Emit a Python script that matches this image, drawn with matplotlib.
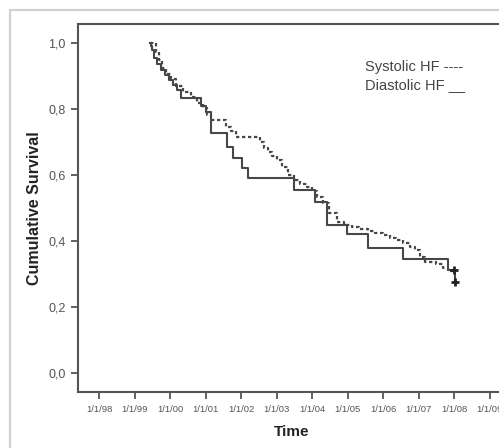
import numpy as np
import matplotlib.pyplot as plt
from matplotlib.patches import Rectangle

plt.rcParams['font.family'] = ['Liberation Sans', 'DejaVu Sans']

# Kaplan-Meier steps (decimal years, survival after the step)
dia_time = [1999.42, 1999.45, 1999.48, 1999.53, 1999.62, 1999.73, 1999.85, 1999.96,
            2000.07, 2000.19, 2000.30, 2000.87, 2001.01, 2001.15, 2001.61, 2001.78,
            2002.01, 2002.20, 2003.48, 2004.08, 2004.42, 2004.99, 2005.56, 2006.55,
            2007.83, 2008.00, 2008.02]
dia_surv = [1.000, 0.990, 0.979, 0.955, 0.936, 0.918, 0.903, 0.888,
            0.873, 0.858, 0.833, 0.809, 0.791, 0.727, 0.685, 0.652,
            0.621, 0.591, 0.555, 0.518, 0.448, 0.421, 0.379, 0.345,
            0.312, 0.312, 0.276]

sys_time = [1999.42, 1999.59, 1999.68, 1999.76, 1999.88, 2000.02, 2000.16, 2000.36,
            2000.59, 2000.76, 2000.93, 2001.04, 2001.15, 2001.58, 2001.72, 2001.86,
            2002.52, 2002.63, 2002.74, 2002.86, 2003.00, 2003.14, 2003.31, 2003.48,
            2003.65, 2003.85, 2003.99, 2004.14, 2004.31, 2004.48, 2004.70, 2004.90,
            2005.13, 2005.33, 2005.56, 2005.78, 2005.98, 2006.18, 2006.35, 2006.55,
            2006.75, 2006.89, 2007.03, 2007.18, 2007.49, 2007.69, 2007.83, 2007.97,
            2008.02]
sys_surv = [1.000, 0.973, 0.948, 0.924, 0.906, 0.891, 0.870, 0.852,
            0.836, 0.818, 0.803, 0.782, 0.767, 0.745, 0.733, 0.715,
            0.700, 0.682, 0.670, 0.658, 0.645, 0.624, 0.600, 0.585,
            0.573, 0.564, 0.552, 0.533, 0.515, 0.485, 0.458, 0.448,
            0.442, 0.436, 0.430, 0.424, 0.418, 0.409, 0.403, 0.394,
            0.382, 0.373, 0.352, 0.336, 0.330, 0.318, 0.309, 0.306,
            0.306]

# censored marks at the end of follow-up
cens_time = [2008.0, 2008.02]
cens_surv = [0.312, 0.276]

xtick_pos = [1998, 1999, 2000, 2001, 2002, 2003, 2004, 2005, 2006, 2007, 2008, 2009]
xtick_lab = ['1/1/98', '1/1/99', '1/1/00', '1/1/01', '1/1/02', '1/1/03',
             '1/1/04', '1/1/05', '1/1/06', '1/1/07', '1/1/08', '1/1/09']
ytick_pos = [0.0, 0.2, 0.4, 0.6, 0.8, 1.0]
ytick_lab = ['0,0', '0,2', '0,4', '0,6', '0,8', '1,0']

fig = plt.figure(figsize=(4.99, 4.48), dpi=100)
fig.patches.append(Rectangle((10 / 499, -0.1), 1.2, 1 - 10 / 448 + 0.1,
                             transform=fig.transFigure, fill=False,
                             edgecolor='#d0d0d0', linewidth=1.5))

ax = fig.add_axes([78 / 499, 1 - 392 / 448, 1 - 78 / 499 + 0.01, (392 - 24) / 448])

line_col = '#474747'
ax.plot(sys_time, sys_surv, drawstyle='steps-post', color=line_col,
        linewidth=1.6, linestyle=(0, (1.5, 1.2)))
ax.plot(dia_time, dia_surv, drawstyle='steps-post', color=line_col, linewidth=1.5)
ax.plot(cens_time, cens_surv, '+', color='#222222', markersize=6, markeredgewidth=2)

ax.set_xlim(1997.403, 2009.40)
ax.set_ylim(-0.0576, 1.0576)
ax.set_xticks(xtick_pos)
ax.set_xticklabels(xtick_lab, fontsize=6.8, color='#555555')
ax.set_yticks(ytick_pos)
ax.set_yticklabels(ytick_lab, fontsize=9, color='#555555')
ax.tick_params(axis='both', direction='out', length=5, width=1.3, color='#555555', pad=4)

for side in ['left', 'bottom', 'top']:
    ax.spines[side].set_color('#555555')
    ax.spines[side].set_linewidth(1.5)
ax.spines['right'].set_visible(False)

fig.text(35 / 499, 1 - 208 / 448, 'Cumulative Survival', rotation=90, ha='center',
         va='center', fontsize=11.5, fontweight='bold', color='#222222')
fig.text(292 / 499, 1 - 432 / 448, 'Time', ha='center', va='center',
         fontsize=11, fontweight='bold', color='#222222')

ax.text(365 / 499, 1 - 67 / 448, 'Systolic HF ----', transform=fig.transFigure,
        ha='left', va='center', fontsize=10.5, color='#444444')
ax.text(365 / 499, 1 - 85 / 448, 'Diastolic HF __', transform=fig.transFigure,
        ha='left', va='center', fontsize=10.5, color='#444444')

fig.savefig('out.png', dpi=100)
